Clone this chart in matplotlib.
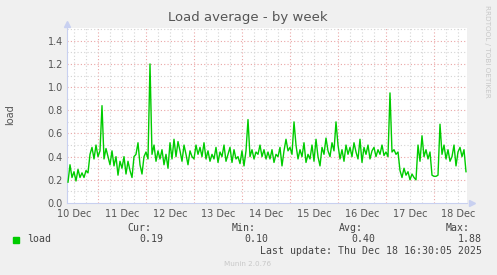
import matplotlib
matplotlib.use("Agg")
import matplotlib.pyplot as plt

# hourly load samples, first one at Dec 10 09:00
start_hour = 9
load = [
    0.18, 0.33, 0.22, 0.27, 0.19, 0.29, 0.22, 0.26, 0.22, 0.28,
    0.26, 0.42, 0.48, 0.38, 0.50, 0.40, 0.45, 0.84, 0.38, 0.47,
    0.40, 0.33, 0.45, 0.32, 0.40, 0.24, 0.36, 0.30, 0.40, 0.25,
    0.36, 0.28, 0.22, 0.40, 0.42, 0.52, 0.33, 0.25, 0.40, 0.44,
    0.38, 1.20, 0.42, 0.50, 0.36, 0.45, 0.38, 0.46, 0.33, 0.42,
    0.30, 0.52, 0.38, 0.55, 0.40, 0.53, 0.45, 0.36, 0.50, 0.42,
    0.33, 0.45, 0.40, 0.38, 0.50, 0.42, 0.48, 0.40, 0.52, 0.38,
    0.45, 0.36, 0.42, 0.38, 0.48, 0.35, 0.44, 0.40, 0.50, 0.36,
    0.42, 0.48, 0.35, 0.46, 0.38, 0.40, 0.34, 0.45, 0.32, 0.45,
    0.72, 0.40, 0.46, 0.38, 0.44, 0.42, 0.50, 0.40, 0.46, 0.38,
    0.44, 0.38, 0.46, 0.35, 0.42, 0.40, 0.48, 0.32, 0.45, 0.55,
    0.45, 0.48, 0.42, 0.70, 0.50, 0.38, 0.46, 0.40, 0.52, 0.35,
    0.42, 0.38, 0.50, 0.36, 0.55, 0.40, 0.32, 0.48, 0.42, 0.56,
    0.45, 0.40, 0.52, 0.45, 0.70, 0.50, 0.38, 0.46, 0.36, 0.50,
    0.42, 0.48, 0.40, 0.52, 0.44, 0.38, 0.55, 0.35, 0.48, 0.42,
    0.50, 0.38, 0.45, 0.48, 0.40, 0.46, 0.42, 0.50, 0.41, 0.44,
    0.40, 0.95, 0.44, 0.46, 0.42, 0.44, 0.28, 0.22, 0.30, 0.24,
    0.27, 0.20, 0.25, 0.22, 0.20, 0.50, 0.36, 0.58, 0.40, 0.46,
    0.38, 0.44, 0.24, 0.23, 0.23, 0.24, 0.68, 0.42, 0.50, 0.38,
    0.46, 0.36, 0.40, 0.50, 0.32, 0.44, 0.48, 0.40, 0.46, 0.27,
]
day_labels = ["10 Dec", "11 Dec", "12 Dec", "13 Dec", "14 Dec",
              "15 Dec", "16 Dec", "17 Dec", "18 Dec"]
y_labels = ["0.0", "0.2", "0.4", "0.6", "0.8", "1.0", "1.2", "1.4"]
cur, vmin, avg, vmax = "0.19", "0.10", "0.40", "1.88"

W, H = 497, 275
fig = plt.figure(figsize=(W / 100, H / 100), dpi=100, facecolor="#f0f0f0")
ax = fig.add_axes([67 / W, 1 - 203 / H, 400 / W, 175 / H], facecolor="white")

# x in days since Dec 10 00:00
days = [(start_hour + i) / 24 for i in range(len(load))]
x_end = 8 + 16.5 / 24
ax.set_xlim(x_end - 400 / 48, x_end)
ax.set_ylim(0, 1.51)

grid_minor = "#d4d4d4"
grid_major = "#eaa6a6"
k = 0
while k * 0.25 <= x_end:
    xv = k * 0.25
    if xv > ax.get_xlim()[0]:
        c = grid_major if k % 4 == 0 else grid_minor
        ax.axvline(xv, color=c, lw=0.8, ls=(0, (1, 2)), zorder=1)
    k += 1
for j in range(1, 16):
    c = grid_major if j % 2 == 0 else grid_minor
    ax.axhline(j * 0.1, color=c, lw=0.8, ls=(0, (1, 2)), zorder=1)

ax.plot(days, load, color="#00cc00", lw=1.0, zorder=3)

ax.set_xticks([i + 0.5 for i in range(len(day_labels))])
ax.set_xticklabels(day_labels)
ax.set_yticks([i * 0.2 for i in range(len(y_labels))])
ax.set_yticklabels(y_labels)
ax.tick_params(length=0, labelsize=7, colors="#555555", pad=3)
ax.tick_params(axis="x", pad=4)

for s in ["top", "right"]:
    ax.spines[s].set_visible(False)
axis_col = "#c8d0f0"
ax.spines["left"].set_color(axis_col)
ax.spines["bottom"].set_color(axis_col)
ax.plot([0], [1.025], marker="^", ms=5, color=axis_col, transform=ax.transAxes, clip_on=False)
ax.plot([1.012], [0], marker=">", ms=5, color=axis_col, transform=ax.transAxes, clip_on=False)


def px(x, y):
    return x / W, 1 - y / H


fig.text(*px(248, 18), "Load average - by week", ha="center", va="center",
         fontsize=9.5, color="#555555")
fig.text(*px(10, 115), "load", ha="center", va="center", rotation=90,
         fontsize=7, color="#555555")
fig.text(*px(487, 5), "RRDTOOL / TOBI OETIKER", ha="center", va="top", rotation=270,
         fontsize=5.2, color="#c8c8c8")

mono = dict(family="DejaVu Sans Mono", fontsize=7.1, color="#444444", va="center")
fig.patches.append(plt.Rectangle(px(13, 243), 6 / W, 6 / H, transform=fig.transFigure,
                                 color="#00cc00"))
fig.text(*px(27, 239), "load", ha="left", **mono)
for xr, head, val in [(151, "Cur:", cur), (256, "Min:", vmin), (363, "Avg:", avg), (470, "Max:", vmax)]:
    fig.text(*px(xr, 228), head, ha="right", **mono)
    fig.text(*px(xr + 12, 239), val, ha="right", **mono)
fig.text(*px(482, 251), "Last update: Thu Dec 18 16:30:05 2025", ha="right", **mono)
fig.text(*px(248, 264), "Munin 2.0.76", ha="center", va="center", fontsize=5.2, color="#c8c8c8")

fig.savefig("out.png", dpi=100, facecolor=fig.get_facecolor())
